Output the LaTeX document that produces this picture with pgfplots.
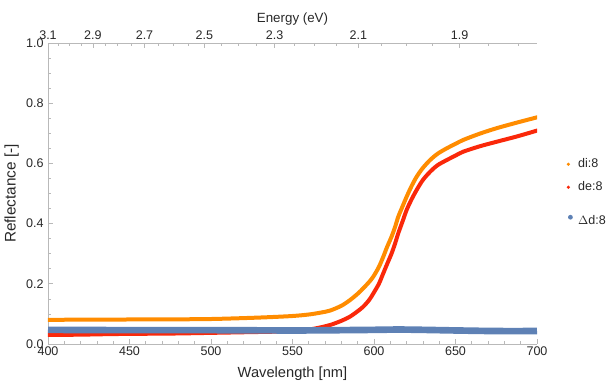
\documentclass[border=0pt]{standalone}
\usepackage{pgfplots}
\pgfplotsset{compat=1.18}
\usepackage{fontspec}
\setmainfont{Liberation Sans}
\definecolor{cOr}{RGB}{255,140,0}
\definecolor{cRd}{RGB}{250,40,10}
\definecolor{cBl}{RGB}{94,129,181}
\definecolor{cAx}{RGB}{185,185,185}
\definecolor{cTx}{RGB}{40,40,40}
\begin{document}
\fontsize{9.4}{11}\selectfont
\begin{tikzpicture}
\path[use as bounding box] (-36pt,-27.75pt) rectangle (419.25pt,258pt);
\pgfplotsset{
  common/.style={
    at={(0,0)}, anchor=south west,
    scale only axis, width=366.75pt, height=225.75pt,
    xmin=400, xmax=700, ymin=0, ymax=1,
    axis line style={cAx, line width=0.6pt},
    tick style={cAx, line width=0.5pt},
    major tick length=3.5pt, minor tick length=2pt,
    tick label style={font=\fontsize{9.4}{11}\selectfont, text=cTx},
    label style={text=cTx},
    /pgf/number format/assume math mode=true,
  }
}
\begin{axis}[common, name=main,
  axis x line*=bottom, axis y line*=left,
  xtick={400,450,...,700}, minor x tick num=4,
  ytick={0,0.2,...,1.0}, minor y tick num=3,
  yticklabel style={/pgf/number format/.cd, fixed, fixed zerofill, precision=1},
  xlabel={Wavelength [nm]}, ylabel={Reflectance [-]},
  xlabel style={font=\fontsize{11}{13}\selectfont, yshift=-2pt},
  ylabel style={font=\fontsize{11.5}{13}\selectfont, yshift=-1pt},
  xticklabel style={yshift=1pt},
  legend style={at={(rel axis cs:1.052,0.634)}, anchor=north west, draw=none, fill=none,
    font=\fontsize{9.4}{11}\selectfont, text=cTx, row sep=5pt, column sep=2pt},
  legend cell align=left,
]
\addplot[cOr, line width=3pt, smooth, line cap=round,
  legend image code/.code={\node[circle, fill=cOr, draw=none, inner sep=0pt, minimum size=2.6pt] at (0.25cm,0cm) {};}] coordinates {
(400,0.080) (420,0.081) (440,0.081) (460,0.082) (480,0.082) (500,0.083)
(520,0.086) (535,0.089) (550,0.093) (560,0.098) (567,0.104) (573,0.111)
(580,0.127) (585.3,0.146) (590,0.167) (593.4,0.185) (597,0.206) (599.6,0.224)
(603,0.256) (605.7,0.290) (608,0.322) (610.8,0.357) (613,0.390) (614.9,0.423)
(617.5,0.457) (620,0.489) (623,0.524) (626.2,0.556) (630,0.585) (634.4,0.611)
(639,0.632) (644.6,0.650) (650,0.665) (654.8,0.678) (665,0.699) (675.3,0.717)
(688,0.736) (700,0.753)};
\addlegendentry{di:8}
\addplot[cRd, line width=3pt, smooth, line cap=round,
  legend image code/.code={\node[circle, fill=cRd, draw=none, inner sep=0pt, minimum size=2.6pt] at (0.25cm,0cm) {};}] coordinates {
(400,0.030) (420,0.031) (440,0.033) (460,0.034) (480,0.035) (500,0.037)
(520,0.039) (540,0.041) (550,0.043) (560,0.048) (567,0.055) (573,0.063)
(580,0.077) (585.3,0.091) (590,0.109) (593.4,0.124) (597,0.146) (599.6,0.168)
(603,0.200) (605.7,0.235) (608,0.265) (610.8,0.301) (613,0.335) (614.9,0.368)
(617.5,0.407) (620,0.445) (623,0.480) (626.2,0.512) (630,0.545) (634.4,0.572)
(639,0.594) (644.6,0.611) (650,0.626) (654.8,0.639) (665,0.657) (675.3,0.672)
(688,0.690) (700,0.709)};
\addlegendentry{de:8}
\addplot[cBl, line width=5pt, smooth,
  legend image code/.code={\node[circle, fill=cBl, draw=none, inner sep=0pt, minimum size=3.6pt] at (0.25cm,-1.2pt) {};}] coordinates {
(400,0.047) (450,0.046) (500,0.046) (550,0.045) (580,0.046) (600,0.047)
(615,0.048) (630,0.047) (650,0.045) (675,0.043) (700,0.043)};
\addlegendentry{\rule{0pt}{15pt}$\Delta$d:8}
\end{axis}
\begin{axis}[common,
  axis x line*=top, axis y line=none,
  xtick={400,427.53,459.20,495.94,539.06,590.40,652.55},
  xticklabels={3.1,2.9,2.7,2.5,2.3,2.1,1.9},
  minor xtick={406.5,413.28,420.28,435.03,442.8,450.85,467.86,476.86,486.21,506.06,516.6,527.59,551.04,563.56,576.67,604.8,619.92,635.82,670.18,688.8},
  xlabel={Energy (eV)}, xlabel style={font=\fontsize{10}{12}\selectfont, yshift=-2pt},
  xticklabel style={yshift=-1pt},
]
\end{axis}
\end{tikzpicture}
\end{document}
